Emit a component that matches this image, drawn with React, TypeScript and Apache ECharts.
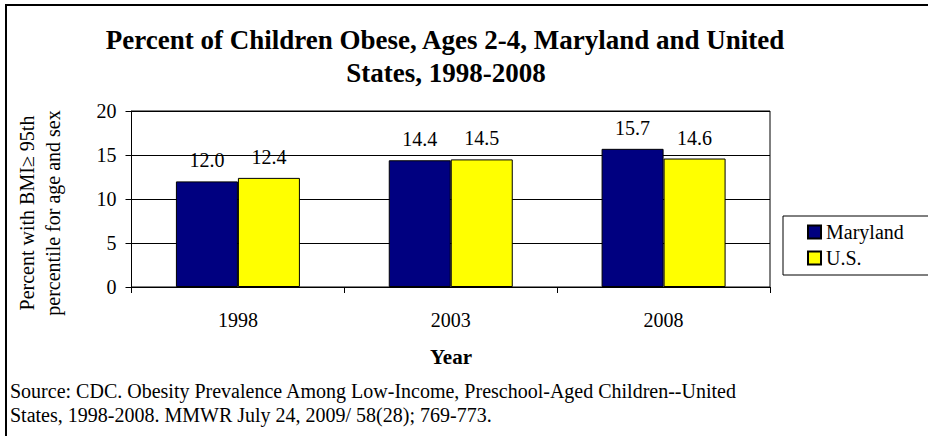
import React, { useEffect, useRef } from "react";
import * as echarts from "echarts";

const categories = ["1998", "2003", "2008"];
const marylandValues = [12.0, 14.4, 15.7];
const usValues = [12.4, 14.5, 14.6];
const seriesNames = ["Maryland", "U.S."];
const titleLines = ["Percent of Children Obese, Ages 2-4, Maryland and United", "States, 1998-2008"];
const yAxisNameLines = ["Percent with BMI\u2265 95th", "percentile for age and sex"];
const xAxisName = "Year";
const sourceLines = [
  "Source: CDC. Obesity Prevalence Among Low-Income, Preschool-Aged Children--United",
  "States, 1998-2008. MMWR July 24, 2009/ 58(28); 769-773.",
];

const FONT = "Liberation Serif";

export default function App() {
  const ref = useRef<HTMLDivElement>(null);
  useEffect(() => {
    if (!ref.current) return;
    const chart = echarts.init(ref.current, null, { renderer: "svg" });
    const labelCfg = {
      show: true,
      position: "top" as const,
      distance: 11,
      color: "#000",
      fontFamily: FONT,
      fontSize: 20,
      formatter: (p: any) => Number(p.value).toFixed(1),
    };
    const txt = (text: string, x: number, y: number, size: number, extra: any = {}) => ({
      type: "text",
      x,
      y,
      rotation: extra.rotation || 0,
      style: {
        text,
        fontFamily: FONT,
        fontSize: size,
        fontWeight: extra.bold ? "bold" : "normal",
        fill: "#000",
        textAlign: extra.align || "center",
        textVerticalAlign: "middle",
      },
    });
    chart.setOption({
      animation: false,
      backgroundColor: "#fff",
      textStyle: { fontFamily: FONT, color: "#000" },
      grid: {
        left: 131.5,
        right: 158,
        top: 111,
        bottom: 149,
        show: true,
        borderColor: "#000",
        borderWidth: 1,
        backgroundColor: "transparent",
      },
      legend: {
        orient: "vertical",
        left: 783,
        top: 216,
        data: seriesNames,
        itemWidth: 13,
        itemHeight: 13,
        itemGap: 6,
        padding: [6, 42, 7, 24],
        borderColor: "#000",
        borderWidth: 1,
        icon: "rect",
        textStyle: { fontFamily: FONT, fontSize: 20, color: "#000" },
      },
      xAxis: {
        type: "category",
        data: categories,
        axisLine: { show: true, lineStyle: { color: "#000", width: 1 } },
        axisTick: { show: true, length: 6, lineStyle: { color: "#000" } },
        axisLabel: { color: "#000", fontFamily: FONT, fontSize: 20, margin: 23 },
      },
      yAxis: {
        type: "value",
        min: 0,
        max: 20,
        interval: 5,
        axisLine: { show: true, lineStyle: { color: "#000", width: 1 } },
        axisTick: { show: true, length: 6, lineStyle: { color: "#000" } },
        axisLabel: { color: "#000", fontFamily: FONT, fontSize: 20, margin: 15 },
        splitLine: { show: true, lineStyle: { color: "#000", width: 1 } },
      },
      series: [
        {
          name: seriesNames[0],
          type: "bar",
          data: marylandValues,
          barWidth: 62,
          barGap: "0%",
          itemStyle: { color: "#000080", borderColor: "#000", borderWidth: 1 },
          label: labelCfg,
        },
        {
          name: seriesNames[1],
          type: "bar",
          data: usValues,
          barWidth: 62,
          barGap: "0%",
          itemStyle: { color: "#FFFF00", borderColor: "#000", borderWidth: 1 },
          label: labelCfg,
        },
      ],
      graphic: [
        { type: "line", shape: { x1: 6, y1: 5, x2: 928, y2: 5 }, style: { stroke: "#000", lineWidth: 2 } },
        { type: "line", shape: { x1: 6, y1: 4, x2: 6, y2: 436 }, style: { stroke: "#000", lineWidth: 2 } },
        txt(titleLines[0], 445, 40, 27, { bold: true }),
        txt(titleLines[1], 446, 73, 27, { bold: true }),
        txt(yAxisNameLines[0], 27, 213, 20, { rotation: Math.PI / 2 }),
        txt(yAxisNameLines[1], 53, 213, 20, { rotation: Math.PI / 2 }),
        txt(xAxisName, 451, 357, 21, { bold: true }),
        txt(sourceLines[0], 10, 391, 20, { align: "left" }),
        txt(sourceLines[1], 10, 415, 20, { align: "left" }),
      ],
    });
    return () => chart.dispose();
  }, []);
  return (
    <div
      ref={ref}
      style={{ position: "fixed", left: 0, top: 0, width: 928, height: 436, background: "#fff" }}
    />
  );
}
